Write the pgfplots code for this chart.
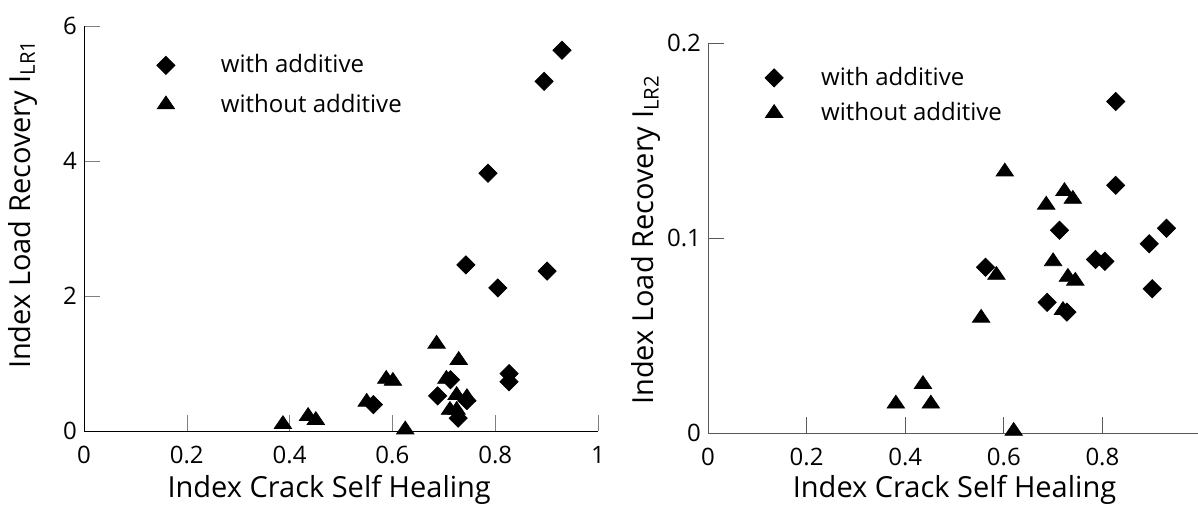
\documentclass[border=0pt]{standalone}
\usepackage{pgfplots}
\pgfplotsset{compat=1.18}
\usepackage{fontspec}
\setmainfont{Open Sans}
\begin{document}
\begin{tikzpicture}
\useasboundingbox (0,0) rectangle (599pt,252pt);
\pgfplotsset{
  myax/.style={
    scale only axis,
    axis lines=left,
    axis line style={-},
    tick align=inside,
    major tick length=8pt,
    /pgf/number format/assume math mode=true,
    tick label style={font=\fontsize{12}{14}\selectfont},
    label style={font=\fontsize{14.5}{17}\selectfont},
    xticklabel style={yshift=-4pt},
    xmin=0, xmax=1,
    legend cell align=left,
    legend style={draw=none, fill=none, font=\fontsize{12}{14}\selectfont,
      inner sep=0pt, row sep=5pt},
  },
  wa/.style={only marks, mark=square*, mark size=3.2pt, mark options={rotate=45, fill=black, draw=black}},
  wo/.style={only marks, mark=triangle*, mark size=5pt, mark options={yscale=0.85, fill=black, draw=black}},
}
% ---------------- left ----------------
\begin{axis}[myax,
  at={(42pt,36.5pt)}, anchor=south west,
  width=257pt, height=202.5pt,
  ymin=0, ymax=6,
  xtick={0,0.2,0.4,0.6,0.8,1},
  ytick={0,2,4,6},
  xlabel={Index Crack Self Healing},
  ylabel={Index Load Recovery I\textsubscript{LR1}},
  xlabel style={at={(axis description cs:0.477,-0.163)}, anchor=base},
  ylabel style={at={(axis description cs:-0.119,0.56)}, anchor=center},
  legend style={at={(axis description cs:0.141,0.94)}, anchor=north west,
    /tikz/every odd column/.append style={column sep=21pt}},
]
\addplot[wa] coordinates {
(0.930,5.64) (0.895,5.18) (0.786,3.82) (0.743,2.46) (0.805,2.12) (0.901,2.37)
(0.827,0.85) (0.827,0.73) (0.713,0.76) (0.688,0.52) (0.563,0.39) (0.745,0.45)
(0.728,0.19)
};
\addlegendentry{with additive}
\addplot[wo] coordinates {
(0.387,0.10) (0.436,0.22) (0.451,0.16) (0.550,0.43) (0.588,0.77) (0.601,0.74)
(0.625,0.02) (0.686,1.29) (0.729,1.05) (0.705,0.77) (0.725,0.53) (0.745,0.50)
(0.712,0.31) (0.725,0.31)
};
\addlegendentry{without additive}
\end{axis}
% ---------------- right ----------------
\begin{axis}[myax,
  at={(354pt,35.5pt)}, anchor=south west,
  width=246.5pt, height=195pt,
  ymin=0, ymax=0.2,
  axis line style={-, draw=black!65},
  every tick/.style={black!65},
  xtick={0,0.2,0.4,0.6,0.8},
  ytick={0,0.1,0.2},
  yticklabel style={/pgf/number format/fixed},
  xlabel={Index Crack Self Healing},
  ylabel={Index Load Recovery I\textsubscript{LR2}},
  xlabel style={at={(axis description cs:0.50,-0.165)}, anchor=base},
  ylabel style={at={(axis description cs:-0.125,0.495)}, anchor=center},
  legend style={at={(axis description cs:0.115,0.949)}, anchor=north west, row sep=3pt,
    /tikz/every odd column/.append style={column sep=17pt}},
]
\addplot[wa] coordinates {
(0.930,0.105) (0.895,0.097) (0.901,0.074) (0.827,0.170) (0.827,0.127) (0.805,0.088)
(0.786,0.089) (0.713,0.104) (0.688,0.067) (0.728,0.062) (0.563,0.085)
};
\addlegendentry{with additive}
\addplot[wo] coordinates {
(0.381,0.015) (0.436,0.025) (0.452,0.015) (0.554,0.059) (0.585,0.081) (0.602,0.134)
(0.620,0.001) (0.686,0.117) (0.723,0.124) (0.740,0.120) (0.700,0.088) (0.720,0.063)
(0.730,0.080) (0.745,0.078)
};
\addlegendentry{without additive}
\end{axis}
\end{tikzpicture}
\end{document}
